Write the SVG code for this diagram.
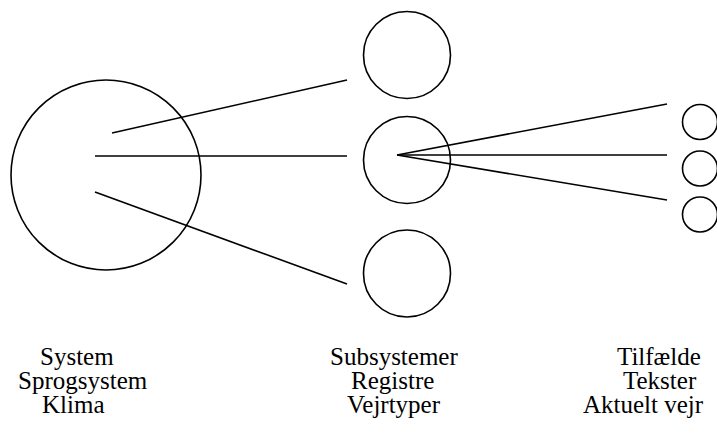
<svg xmlns="http://www.w3.org/2000/svg" width="717" height="434" viewBox="0 0 717 434">
<style>
.n{fill:none;stroke:#000;stroke-width:1.6}
.c line{stroke:#000;stroke-width:1.6}
.t{font-size:25px;fill:#000}
</style>
<rect width="717" height="434" fill="#fff"/>
<g id="system"><circle class="n" cx="106" cy="175" r="95"/></g>
<g id="sub-top"><circle class="n" cx="407" cy="55" r="43.5"/></g>
<g id="sub-mid"><circle class="n" cx="407" cy="160" r="43.5"/></g>
<g id="sub-bot"><circle class="n" cx="407" cy="273.5" r="43.5"/></g>
<g id="case-1"><circle class="n" cx="700" cy="122" r="17.5"/></g>
<g id="case-2"><circle class="n" cx="700" cy="168.5" r="17.5"/></g>
<g id="case-3"><circle class="n" cx="700" cy="214.5" r="17.5"/></g>
<g id="connectors" class="c">
<line x1="112" y1="133" x2="347" y2="80"/>
<line x1="95" y1="156" x2="347" y2="156"/>
<line x1="95" y1="192" x2="347" y2="284"/>
<line x1="397" y1="155" x2="667" y2="104"/>
<line x1="397" y1="155" x2="667" y2="155"/>
<line x1="397" y1="155" x2="667" y2="200"/>
</g>
<g id="labels" class="t" font-family="'Liberation Serif', 'DejaVu Serif', serif">
<text x="40" y="365">System</text>
<text x="18" y="389">Sprogsystem</text>
<text x="42" y="413">Klima</text>
<text x="330" y="365">Subsystemer</text>
<text x="351" y="389">Registre</text>
<text x="347" y="413">Vejrtyper</text>
<text x="617" y="365">Tilfælde</text>
<text x="623" y="389">Tekster</text>
<text x="583" y="413">Aktuelt vejr</text>
</g>
</svg>
